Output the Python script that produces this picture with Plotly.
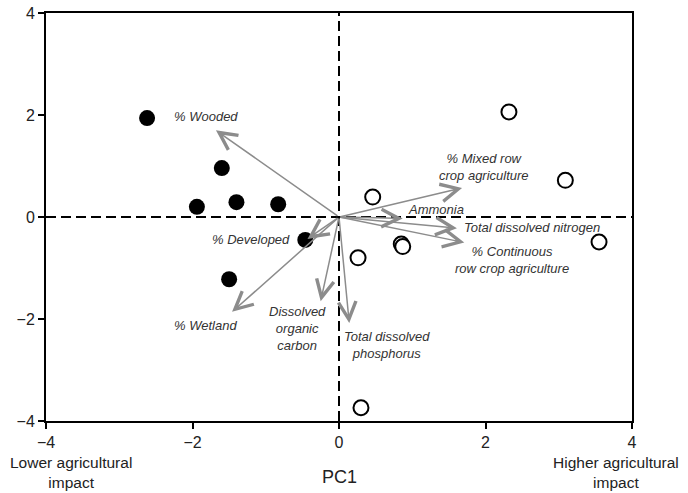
import plotly.graph_objects as go

# Sites: lower agricultural impact (filled) and higher agricultural impact (open)
low_x = [-2.62, -1.60, -1.94, -1.40, -0.83, -0.46, -1.50]
low_y = [1.94, 0.96, 0.20, 0.29, 0.25, -0.45, -1.22]
high_x = [2.32, 3.09, 0.46, 0.85, 0.87, 0.26, 3.55, 0.30]
high_y = [2.06, 0.72, 0.39, -0.53, -0.58, -0.80, -0.49, -3.74]

# Variable loadings (arrow tips)
var_names = ["% Wooded", "% Mixed row<br>crop agriculture", "Ammonia",
             "Total dissolved nitrogen", "% Continuous<br>row crop agriculture",
             "% Developed", "% Wetland", "Dissolved<br>organic<br>carbon",
             "Total dissolved<br>phosphorus"]
var_x = [-1.68, 1.68, 0.87, 1.61, 1.71, -0.43, -1.46, -0.25, 0.14]
var_y = [1.70, 0.57, -0.03, -0.22, -0.50, -0.43, -1.86, -1.65, -2.08]
# Label anchor points
label_x = [-1.82, 1.98, 1.32, 2.63, 2.36, -1.20, -1.82, -0.57, 0.66]
label_y = [1.98, 0.98, 0.14, -0.21, -0.85, -0.44, -2.13, -2.18, -2.51]

x_ticks = [-4, -2, 0, 2, 4]
y_ticks = [-4, -2, 0, 2, 4]

FONT = "Arial, Liberation Sans, sans-serif"

fig = go.Figure()
fig.add_trace(go.Scatter(x=low_x, y=low_y, mode="markers",
                         marker=dict(size=16, color="black", line=dict(width=0)),
                         showlegend=False, hoverinfo="skip"))
fig.add_trace(go.Scatter(x=high_x, y=high_y, mode="markers",
                         marker=dict(size=15, color="white", line=dict(width=2, color="black")),
                         showlegend=False, hoverinfo="skip"))

shapes = [
    dict(type="line", xref="x", yref="y", x0=0, x1=0, y0=-4, y1=4,
         line=dict(color="black", width=2, dash="10px,5px"), layer="below"),
    dict(type="line", xref="x", yref="y", x0=-4, x1=4, y0=0, y1=0,
         line=dict(color="black", width=2, dash="10px,5px"), layer="below"),
]

annotations = []
for vx, vy in zip(var_x, var_y):
    annotations.append(dict(x=vx, y=vy, ax=0, ay=0, xref="x", yref="y",
                            axref="x", ayref="y", text="", showarrow=True,
                            arrowhead=5, arrowsize=2.3, arrowwidth=1.5,
                            arrowcolor="#8c8c8c", standoff=0, startstandoff=0))
for name, lx, ly in zip(var_names, label_x, label_y):
    annotations.append(dict(x=lx, y=ly, xref="x", yref="y", text="<i>" + name + "</i>",
                            showarrow=False, xanchor="center", yanchor="middle",
                            font=dict(family=FONT, size=13, color="#333333")))

annotations += [
    dict(x=-3.66, y=-0.127, xref="x", yref="paper", text="Lower agricultural<br>impact",
         showarrow=False, xanchor="center", yanchor="middle",
         font=dict(family=FONT, size=15.5, color="#222222")),
    dict(x=3.78, y=-0.127, xref="x", yref="paper", text="Higher agricultural<br>impact",
         showarrow=False, xanchor="center", yanchor="middle",
         font=dict(family=FONT, size=15.5, color="#222222")),
    dict(x=0, y=-0.137, xref="x", yref="paper", text="PC1",
         showarrow=False, xanchor="center", yanchor="middle",
         font=dict(family=FONT, size=18, color="#222222")),
]

fig.update_layout(
    width=688, height=493,
    margin=dict(l=46, r=56, t=13, b=72),
    plot_bgcolor="white", paper_bgcolor="white",
    shapes=shapes, annotations=annotations,
    font=dict(family=FONT, size=16, color="#222222"),
)
fig.update_xaxes(range=[-4, 4], tickvals=x_ticks, showgrid=False, zeroline=False,
                 automargin=False,
                 showline=True, linecolor="black", linewidth=2, mirror=True,
                 ticks="outside", ticklen=6, tickwidth=1.5, tickcolor="black",
                 tickfont=dict(family=FONT, size=16, color="#222222"))
fig.update_yaxes(range=[-4, 4], tickvals=y_ticks, showgrid=False, zeroline=False,
                 automargin=False,
                 showline=True, linecolor="black", linewidth=2, mirror=True,
                 ticks="outside", ticklen=6, tickwidth=1.5, tickcolor="black",
                 tickfont=dict(family=FONT, size=16, color="#222222"))

fig.write_html("out.html")
